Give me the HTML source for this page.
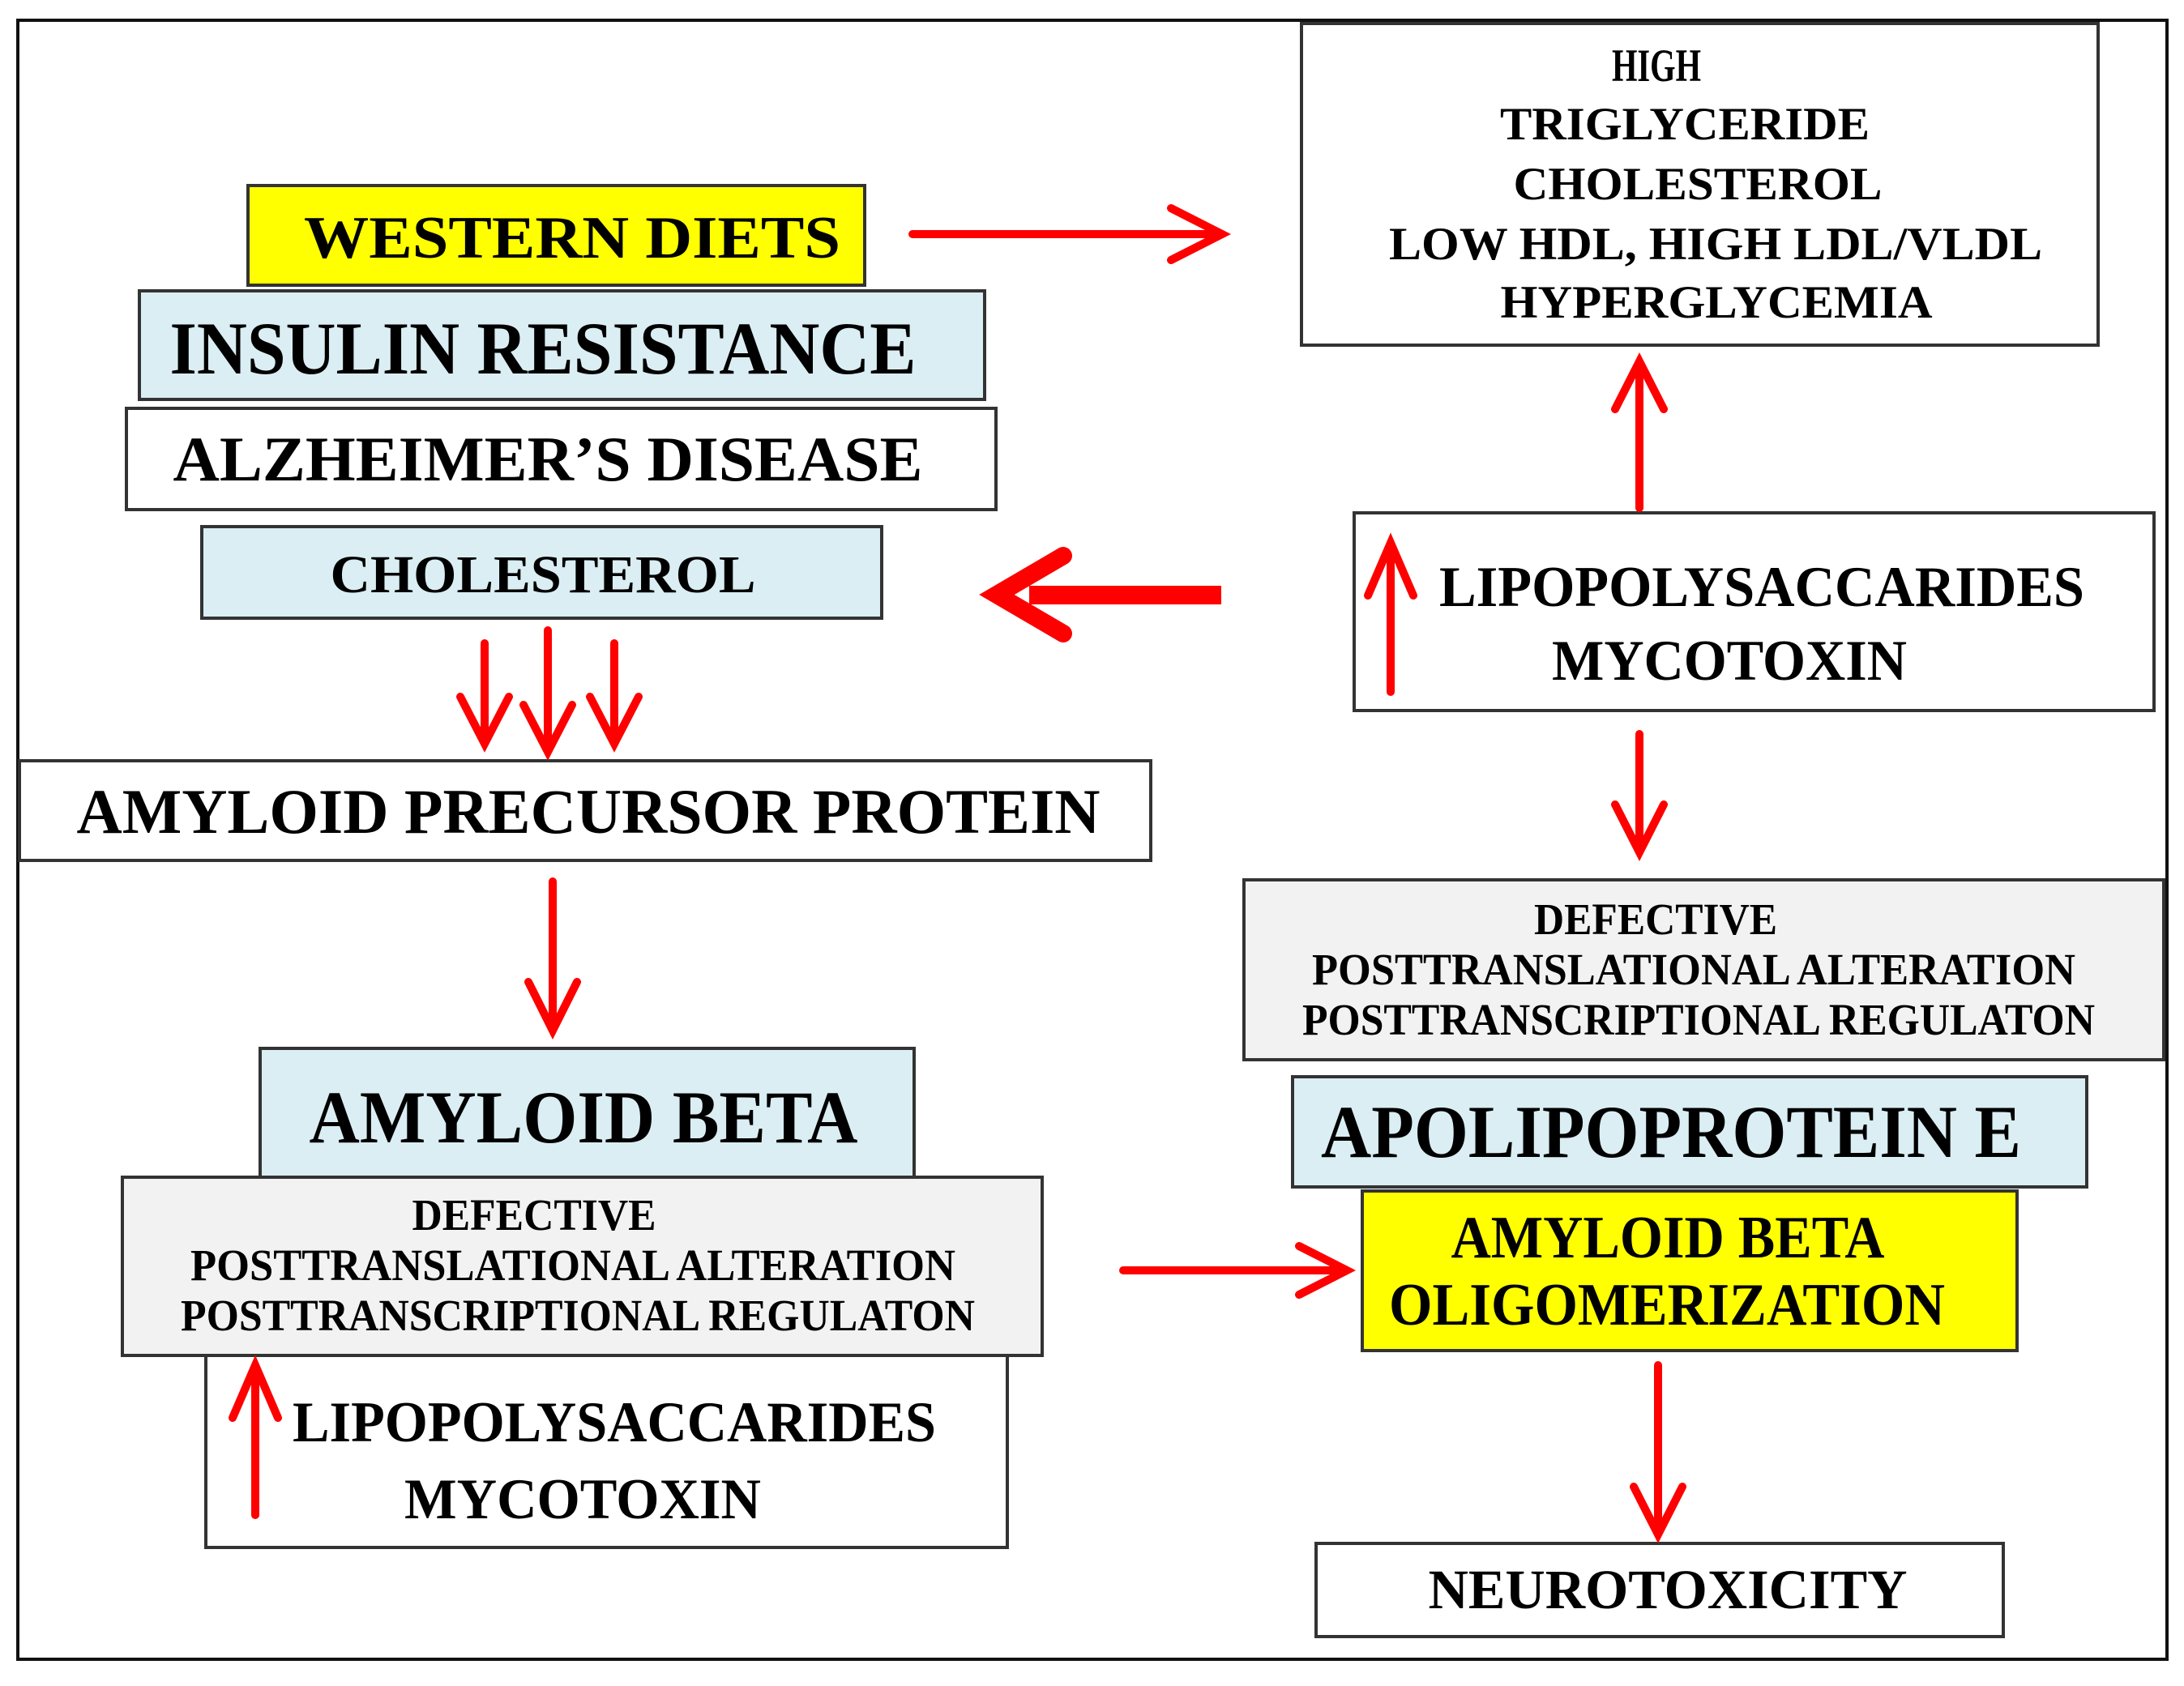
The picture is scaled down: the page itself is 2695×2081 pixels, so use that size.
<!DOCTYPE html>
<html><head><meta charset="utf-8"><style>
html,body{margin:0;padding:0;background:#fff;width:2695px;height:2081px;overflow:hidden}
svg{display:block}
text{font-family:"Liberation Serif",serif;font-weight:bold;fill:#000;text-anchor:middle}
</style></head><body>
<svg width="2695" height="2081" viewBox="0 0 2695 2081" xmlns="http://www.w3.org/2000/svg">
<rect x="22" y="25" width="2652" height="2023" fill="#fff" stroke="#111" stroke-width="4"/>
<g stroke="#333" stroke-width="4">
<rect x="306" y="229" width="761" height="123" fill="#ffff00"/>
<rect x="172" y="359" width="1043" height="134" fill="#daeef3"/>
<rect x="156" y="504" width="1073" height="125" fill="#fff"/>
<rect x="249" y="650" width="839" height="113" fill="#daeef3"/>
<rect x="24" y="939" width="1396" height="123" fill="#fff"/>
<rect x="321" y="1294" width="807" height="159" fill="#daeef3"/>
<rect x="254" y="1673" width="989" height="237" fill="#fff"/>
<rect x="151" y="1453" width="1135" height="220" fill="#f2f2f2"/>
<rect x="1606" y="29" width="983" height="397" fill="#fff"/>
<rect x="1671" y="633" width="987" height="244" fill="#fff"/>
<rect x="1535" y="1086" width="1135" height="222" fill="#f2f2f2"/>
<rect x="1595" y="1329" width="980" height="136" fill="#daeef3"/>
<rect x="1681" y="1470" width="808" height="197" fill="#ffff00"/>
<rect x="1624" y="1905" width="848" height="115" fill="#fff"/>
</g>
<g fill="none" stroke="#ff0000" stroke-linecap="round" stroke-linejoin="miter">
<g stroke-width="10">
<line x1="1126" y1="289" x2="1505" y2="289"/><polyline points="1445,257 1508,289 1445,321"/>
<line x1="2023" y1="627" x2="2023" y2="450"/><polyline points="1993,505 2023,446 2053,505"/>
<line x1="598" y1="794" x2="598" y2="915"/><polyline points="568,860 598,918 628,860"/>
<line x1="676" y1="778" x2="676" y2="925"/><polyline points="646,870 676,928 706,870"/>
<line x1="758" y1="794" x2="758" y2="915"/><polyline points="728,860 758,918 788,860"/>
<line x1="2023" y1="906" x2="2023" y2="1048"/><polyline points="1993,993 2023,1052 2053,993"/>
<line x1="682" y1="1088" x2="682" y2="1268"/><polyline points="652,1212 682,1272 712,1212"/>
<line x1="1386" y1="1568" x2="1658" y2="1568"/><polyline points="1603,1538 1662,1568 1603,1598"/>
<line x1="2046" y1="1685" x2="2046" y2="1890"/><polyline points="2016,1835 2046,1894 2076,1835"/>
<line x1="1716" y1="854" x2="1716" y2="685"/><polyline points="1688,735 1716,670 1744,735"/>
<line x1="315" y1="1870" x2="315" y2="1700"/><polyline points="287,1750 315,1685 343,1750"/>
</g>
<rect x="1270" y="723" width="237" height="23" fill="#ff0000" stroke="none"/>
<polyline points="1312,686 1230,734 1312,782" stroke-width="22" stroke-linejoin="miter"/>
</g>
<text x="706" y="318" font-size="74" textLength="662" lengthAdjust="spacingAndGlyphs">WESTERN  DIETS</text>
<text x="670" y="461" font-size="92" textLength="921" lengthAdjust="spacingAndGlyphs">INSULIN RESISTANCE</text>
<text x="676" y="593" font-size="78" textLength="925" lengthAdjust="spacingAndGlyphs">ALZHEIMER’S  DISEASE</text>
<text x="670" y="731" font-size="66" textLength="525" lengthAdjust="spacingAndGlyphs">CHOLESTEROL</text>
<text x="726" y="1028" font-size="78" textLength="1263" lengthAdjust="spacingAndGlyphs">AMYLOID PRECURSOR PROTEIN</text>
<text x="720" y="1410" font-size="92" textLength="677" lengthAdjust="spacingAndGlyphs">AMYLOID BETA</text>
<text x="659" y="1518" font-size="55" textLength="301" lengthAdjust="spacingAndGlyphs">DEFECTIVE</text>
<text x="707" y="1580" font-size="55" textLength="944" lengthAdjust="spacingAndGlyphs">POSTTRANSLATIONAL  ALTERATION</text>
<text x="713" y="1642" font-size="55" textLength="980" lengthAdjust="spacingAndGlyphs">POSTTRANSCRIPTIONAL REGULATON</text>
<text x="758" y="1779" font-size="71" textLength="794" lengthAdjust="spacingAndGlyphs">LIPOPOLYSACCARIDES</text>
<text x="719" y="1874" font-size="71" textLength="440" lengthAdjust="spacingAndGlyphs">MYCOTOXIN</text>
<text x="2044" y="100" font-size="57" textLength="110" lengthAdjust="spacingAndGlyphs">HIGH</text>
<text x="2079" y="172" font-size="57" textLength="456" lengthAdjust="spacingAndGlyphs">TRIGLYCERIDE</text>
<text x="2095" y="246" font-size="57" textLength="455" lengthAdjust="spacingAndGlyphs">CHOLESTEROL</text>
<text x="2117" y="320" font-size="57" textLength="806" lengthAdjust="spacingAndGlyphs">LOW  HDL, HIGH LDL/VLDL</text>
<text x="2118" y="392" font-size="57" textLength="533" lengthAdjust="spacingAndGlyphs">HYPERGLYCEMIA</text>
<text x="2174" y="748" font-size="71" textLength="796" lengthAdjust="spacingAndGlyphs">LIPOPOLYSACCARIDES</text>
<text x="2134" y="839" font-size="71" textLength="438" lengthAdjust="spacingAndGlyphs">MYCOTOXIN</text>
<text x="2043" y="1153" font-size="55" textLength="300" lengthAdjust="spacingAndGlyphs">DEFECTIVE</text>
<text x="2090" y="1215" font-size="55" textLength="942" lengthAdjust="spacingAndGlyphs">POSTTRANSLATIONAL  ALTERATION</text>
<text x="2096" y="1277" font-size="55" textLength="978" lengthAdjust="spacingAndGlyphs">POSTTRANSCRIPTIONAL REGULATON</text>
<text x="2062" y="1428" font-size="92" textLength="864" lengthAdjust="spacingAndGlyphs">APOLIPOPROTEIN E</text>
<text x="2058" y="1552" font-size="74" textLength="535" lengthAdjust="spacingAndGlyphs">AMYLOID BETA</text>
<text x="2057" y="1635" font-size="74" textLength="686" lengthAdjust="spacingAndGlyphs">OLIGOMERIZATION</text>
<text x="2058" y="1985" font-size="69" textLength="591" lengthAdjust="spacingAndGlyphs">NEUROTOXICITY</text>
</svg>
</body></html>
